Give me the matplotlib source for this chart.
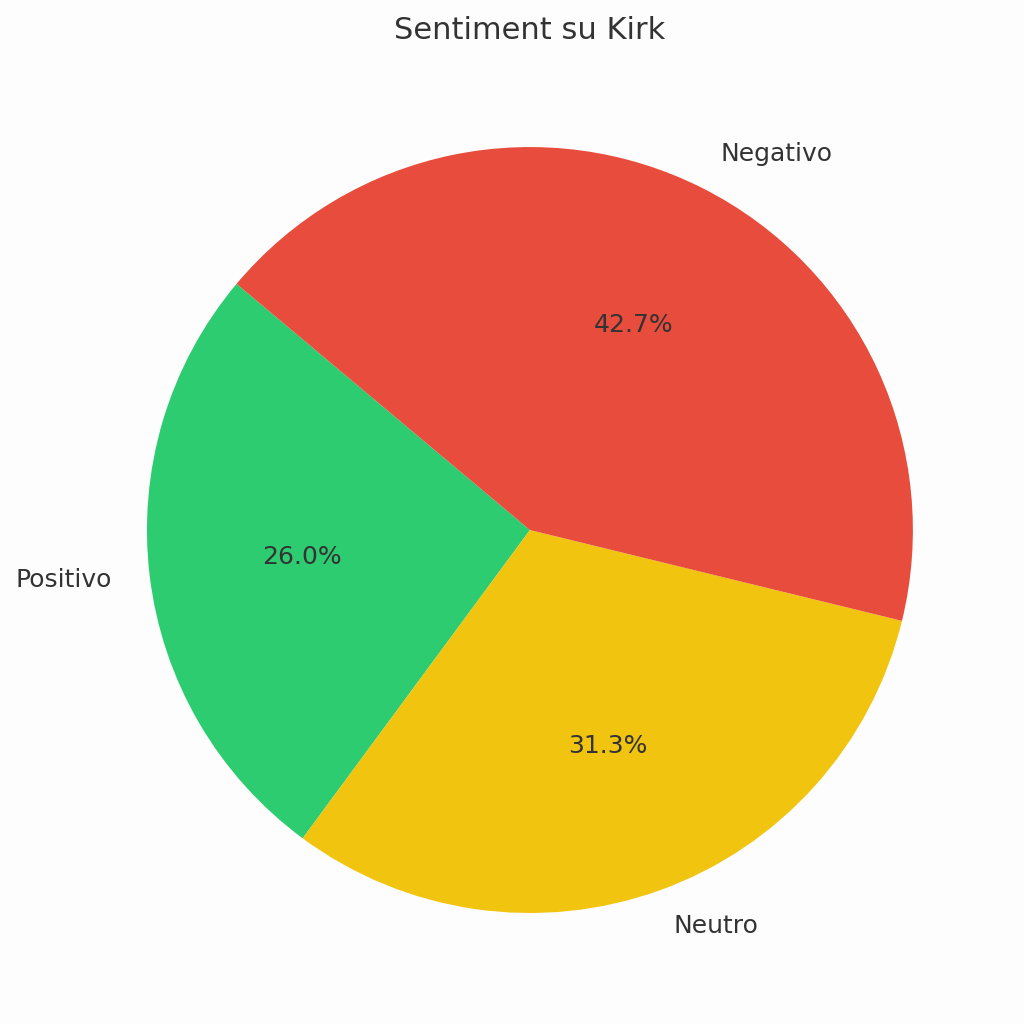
import matplotlib
matplotlib.use("Agg")
import matplotlib.pyplot as plt

labels = ["Positivo", "Neutro", "Negativo"]
shares = [26.0, 31.3, 42.7]
colors = ["#2ecc71", "#f1c40f", "#e74c3c"]

text_color = "#333333"

fig = plt.figure(figsize=(10.24, 10.24), dpi=100, facecolor="#fdfdfd")
ax = fig.add_axes([0.05, 0.0149, 0.935, 0.935])
ax.set_facecolor("#fdfdfd")

wedges, texts, autotexts = ax.pie(
    shares,
    labels=labels,
    colors=colors,
    autopct="%1.1f%%",
    startangle=140,
    textprops={"fontsize": 18, "color": text_color},
)
for t in autotexts:
    t.set_fontsize(18)
    t.set_color(text_color)
ax.set_aspect("equal")

fig.text(0.5175, 0.97, "Sentiment su Kirk", ha="center", va="center",
         fontsize=22, color=text_color)

fig.savefig("out.png", dpi=100, facecolor=fig.get_facecolor())
